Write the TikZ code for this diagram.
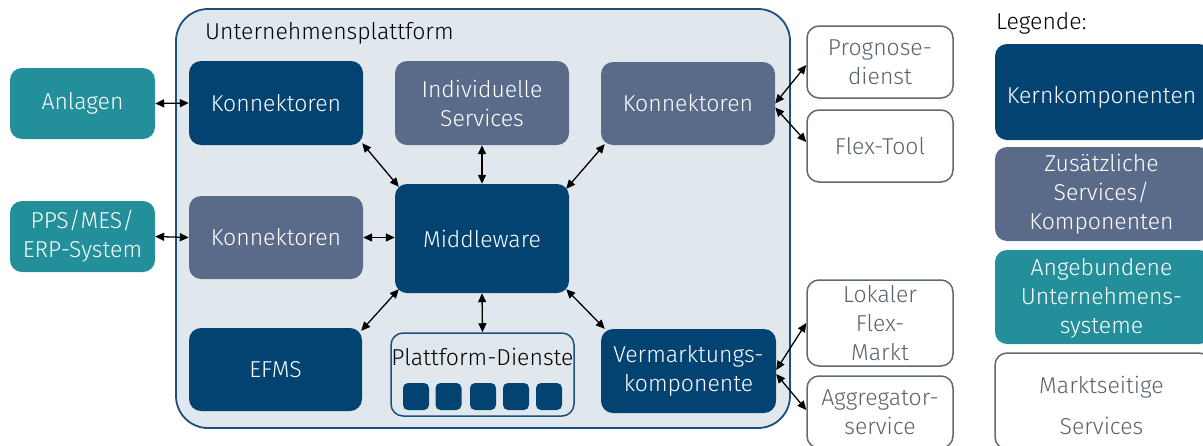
\documentclass[tikz,border=0pt]{standalone}
\usepackage{fontspec}
\setmainfont{Fira Sans Light}
\usetikzlibrary{arrows.meta,calc}
\definecolor{kern}{HTML}{034372}
\definecolor{zus}{HTML}{5A6B8A}
\definecolor{ang}{HTML}{228F9A}
\definecolor{platfill}{HTML}{E1E8ED}
\definecolor{platline}{HTML}{1A4F80}
\definecolor{mktline}{HTML}{5F6A73}
\definecolor{mkttext}{HTML}{59636C}
\tikzset{
  txt/.style={font=\fontsize{23}{29}\selectfont},
  box/.style={rounded corners=12pt, inner sep=0pt, align=center, txt},
  kernbox/.style={box, fill=kern, text=white},
  zusbox/.style={box, fill=zus, text=white},
  angbox/.style={box, fill=ang, text=white},
  mktbox/.style={box, draw=mktline, line width=1.5pt, fill=white, text=mkttext},
  cell/.style={fill=kern, rounded corners=5pt, inner sep=0pt, minimum width=26pt, minimum height=27pt},
  arr/.style={{Triangle[length=9pt,width=8pt]}-{Triangle[length=9pt,width=8pt]}, line width=1.3pt, black},
}
\begin{document}
\begin{tikzpicture}[x=1pt,y=-1pt]
\useasboundingbox (0,0) rectangle (1203,445);
% platform
\node[draw=platline, fill=platfill, line width=1.8pt, rounded corners=32pt, minimum width=614pt, minimum height=419pt, inner sep=0pt] (plat) at (483,218.5) {};
\node[anchor=west, txt, inner sep=0pt] (title) at (205,33) {Unternehmensplattform};

% external systems
\node[angbox, minimum width=145pt, minimum height=71pt] (anl) at (82.5,103.5) {Anlagen};
\node[angbox, minimum width=145pt, minimum height=71pt] (pps) at (82.5,236.5) {PPS/MES/\\ERP-System};

% inner components
\node[kernbox, minimum width=174pt, minimum height=84pt] (k1) at (276,103) {Konnektoren};
\node[zusbox, minimum width=174pt, minimum height=83pt] (k2) at (276,237.5) {Konnektoren};
\node[kernbox, minimum width=173pt, minimum height=83pt] (efms) at (275.5,369.5) {EFMS};
\node[zusbox, minimum width=174pt, minimum height=84pt] (ind) at (482,103) {Individuelle\\Services};
\node[zusbox, minimum width=174pt, minimum height=83pt] (k3) at (688,103.5) {Konnektoren};
\node[kernbox, minimum width=174pt, minimum height=109pt] (mw) at (482,238.5) {Middleware};
\node[kernbox, minimum width=175pt, minimum height=84pt] (vm) at (688.5,371) {Vermarktungs-\\komponente};

% Plattform-Dienste
\node[draw=platline, fill=platfill, line width=1.5pt, rounded corners=12pt, minimum width=183pt, minimum height=83pt, inner sep=0pt] (pd) at (482.5,374.5) {};
\node[txt, inner sep=0pt] (pdt) at (482.5,357) {Plattform-Dienste};
\node[cell] (c1) at (416,396.5) {};
\node[cell] (c2) at (448.5,396.5) {};
\node[cell] (c3) at (483,396.5) {};
\node[cell] (c4) at (516,396.5) {};
\node[cell] (c5) at (549,396.5) {};

% market-side services
\node[mktbox, minimum width=146pt, minimum height=72pt] (prog) at (880,62) {Prognose-\\dienst};
\node[mktbox, minimum width=146pt, minimum height=72pt] (flex) at (880,146) {Flex-Tool};
\node[mktbox, minimum width=146pt, minimum height=86pt] (lok) at (880,323) {Lokaler\\Flex-\\Markt};
\node[mktbox, minimum width=146pt, minimum height=72pt] (agg) at (880,412) {Aggregator-\\service};

% legend
\node[anchor=west, txt, inner sep=0pt] (leg) at (996,23) {Legende:};
\node[kernbox, minimum width=216pt, minimum height=96pt] (l1) at (1103,92) {};
\node[txt, text=white, inner sep=0pt] (l1t) at (1101.5,97) {Kernkomponenten};
\node[zusbox, minimum width=216pt, minimum height=94pt] (l2) at (1103,194) {};
\node[txt, text=white, align=center, inner sep=0pt] (l2t) at (1101.5,194) {Zusätzliche\\Services/\\Komponenten};
\node[angbox, minimum width=216pt, minimum height=94pt] (l3) at (1103,297) {};
\node[txt, text=white, align=center, inner sep=0pt] (l3t) at (1101.5,298) {Angebundene\\Unternehmens-\\systeme};
\node[mktbox, minimum width=216pt, minimum height=96pt] (l4) at (1103,401) {};
\node[txt, text=mkttext, align=center, inner sep=0pt] (l4t) at (1101.5,405) {Marktseitige\\[12pt]Services};

% connectors
\draw[arr] (anl.east) -- (k1.west);
\draw[arr] (pps.east) -- (k2.west);
\draw[arr] (k2.east) -- (mw.west |- k2.east);
\draw[arr] ($(k1.south east)+(-1,-2)$) -- ($(mw.north west)+(4,3)$);
\draw[arr] (ind.south) -- (mw.north);
\draw[arr] ($(k3.south west)+(4,-1)$) -- ($(mw.north east)+(-3,5)$);
\draw[arr] ($(efms.north east)+(-1,3)$) -- ($(mw.south west)+(4,-4)$);
\draw[arr] (mw.south) -- (pd.north);
\draw[arr] ($(mw.south east)+(-3,-4)$) -- ($(vm.north west)+(4,0)$);
\draw[arr] ($(k3.east)+(0,0)$) -- ($(prog.west)+(0,3)$);
\draw[arr] ($(k3.east)+(0,4)$) -- ($(flex.west)+(0,-4)$);
\draw[arr] ($(vm.east)+(0,-1)$) -- ($(lok.west)+(0,0)$);
\draw[arr] ($(vm.east)+(0,3)$) -- ($(agg.west)+(0,-2)$);
\end{tikzpicture}
\end{document}
